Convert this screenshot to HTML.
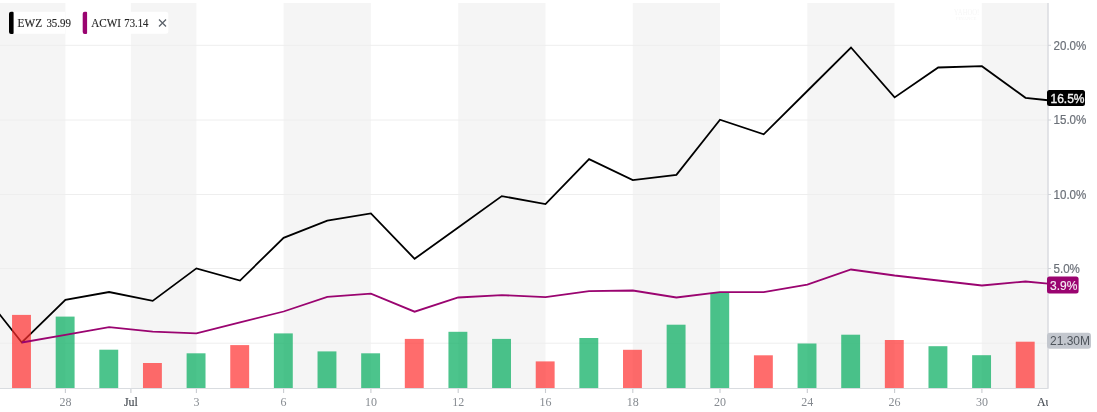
<!DOCTYPE html>
<html><head><meta charset="utf-8"><style>
html,body{margin:0;padding:0;background:#fff;width:1097px;height:412px;overflow:hidden}
svg{display:block;will-change:transform}
</style></head><body>
<svg width="1097" height="412" viewBox="0 0 1097 412">
<defs><clipPath id="plot"><rect x="0" y="3" width="1048" height="385"/></clipPath></defs>
<rect x="0.0" y="3" width="65.4" height="385" fill="#f5f5f5"/>
<rect x="130.9" y="3" width="65.5" height="385" fill="#f5f5f5"/>
<rect x="283.6" y="3" width="87.3" height="385" fill="#f5f5f5"/>
<rect x="458.2" y="3" width="87.3" height="385" fill="#f5f5f5"/>
<rect x="632.8" y="3" width="87.2" height="385" fill="#f5f5f5"/>
<rect x="807.3" y="3" width="87.2" height="385" fill="#f5f5f5"/>
<rect x="981.8" y="3" width="66.2" height="385" fill="#f5f5f5"/>
<line x1="0" x2="1048" y1="45.3" y2="45.3" stroke="#eeeeee" stroke-width="1"/>
<line x1="0" x2="1048" y1="120.0" y2="120.0" stroke="#eeeeee" stroke-width="1"/>
<line x1="0" x2="1048" y1="194.5" y2="194.5" stroke="#eeeeee" stroke-width="1"/>
<line x1="0" x2="1048" y1="268.5" y2="268.5" stroke="#eeeeee" stroke-width="1"/>
<line x1="0" x2="1048" y1="343.2" y2="343.2" stroke="#eeeeee" stroke-width="1"/>
<g clip-path="url(#plot)">
<polyline points="-21.8,287.3 21.8,342.5 65.4,299.9 109.1,292.0 152.7,300.9 196.4,268.4 240.0,280.6 283.6,237.8 327.3,220.6 370.9,213.4 414.6,258.8 458.2,227.4 501.8,196.1 545.5,204.1 589.1,159.2 632.8,180.1 676.4,174.8 720.0,119.7 763.7,134.3 807.3,91.0 851.0,47.5 894.6,97.4 938.2,67.5 981.9,66.2 1025.5,97.8 1069.2,102.5" fill="none" stroke="#000" stroke-width="1.8" stroke-linejoin="miter"/>
<rect x="12.05" y="314.9" width="18.9" height="73.1" fill="#ff2e2e" fill-opacity="0.7"/>
<rect x="55.69" y="316.6" width="18.9" height="71.4" fill="#00ab5b" fill-opacity="0.7"/>
<rect x="99.33" y="349.7" width="18.9" height="38.3" fill="#00ab5b" fill-opacity="0.7"/>
<rect x="142.97" y="363.0" width="18.9" height="25.0" fill="#ff2e2e" fill-opacity="0.7"/>
<rect x="186.61" y="353.3" width="18.9" height="34.7" fill="#00ab5b" fill-opacity="0.7"/>
<rect x="230.25" y="345.1" width="18.9" height="42.9" fill="#ff2e2e" fill-opacity="0.7"/>
<rect x="273.89" y="333.4" width="18.9" height="54.6" fill="#00ab5b" fill-opacity="0.7"/>
<rect x="317.53" y="351.4" width="18.9" height="36.6" fill="#00ab5b" fill-opacity="0.7"/>
<rect x="361.17" y="353.3" width="18.9" height="34.7" fill="#00ab5b" fill-opacity="0.7"/>
<rect x="404.81" y="338.9" width="18.9" height="49.1" fill="#ff2e2e" fill-opacity="0.7"/>
<rect x="448.45" y="331.8" width="18.9" height="56.2" fill="#00ab5b" fill-opacity="0.7"/>
<rect x="492.09" y="338.9" width="18.9" height="49.1" fill="#00ab5b" fill-opacity="0.7"/>
<rect x="535.73" y="361.4" width="18.9" height="26.6" fill="#ff2e2e" fill-opacity="0.7"/>
<rect x="579.37" y="338.0" width="18.9" height="50.0" fill="#00ab5b" fill-opacity="0.7"/>
<rect x="623.01" y="349.8" width="18.9" height="38.2" fill="#ff2e2e" fill-opacity="0.7"/>
<rect x="666.65" y="324.7" width="18.9" height="63.3" fill="#00ab5b" fill-opacity="0.7"/>
<rect x="710.29" y="292.8" width="18.9" height="95.2" fill="#00ab5b" fill-opacity="0.7"/>
<rect x="753.93" y="355.3" width="18.9" height="32.7" fill="#ff2e2e" fill-opacity="0.7"/>
<rect x="797.57" y="343.5" width="18.9" height="44.5" fill="#00ab5b" fill-opacity="0.7"/>
<rect x="841.21" y="334.7" width="18.9" height="53.3" fill="#00ab5b" fill-opacity="0.7"/>
<rect x="884.85" y="340.0" width="18.9" height="48.0" fill="#ff2e2e" fill-opacity="0.7"/>
<rect x="928.49" y="346.2" width="18.9" height="41.8" fill="#00ab5b" fill-opacity="0.7"/>
<rect x="972.13" y="355.2" width="18.9" height="32.8" fill="#00ab5b" fill-opacity="0.7"/>
<rect x="1015.77" y="341.7" width="18.9" height="46.3" fill="#ff2e2e" fill-opacity="0.7"/>
<polyline points="21.8,342.5 65.4,334.8 109.1,327.1 152.7,331.7 196.4,333.3 240.0,322.4 283.6,311.5 327.3,296.8 370.9,293.6 414.6,311.7 458.2,297.5 501.8,295.1 545.5,297.2 589.1,291.1 632.8,290.5 676.4,297.5 720.0,292.1 763.7,292.1 807.3,284.7 851.0,269.5 894.6,275.5 938.2,280.5 981.9,285.5 1025.5,281.5 1069.2,285.5" fill="none" stroke="#9a0470" stroke-width="1.8" stroke-linejoin="miter"/>
</g>
<line x1="0" x2="1048" y1="388.5" y2="388.5" stroke="#d9dce0" stroke-width="1"/>
<line x1="1048" x2="1048" y1="3" y2="388.75" stroke="#dcdee2" stroke-width="1.6"/>
<g clip-path="url(#plot2)">
<line x1="65.4" x2="65.4" y1="389" y2="393" stroke="#c9ccd1" stroke-width="1.1"/>
<line x1="130.9" x2="130.9" y1="389" y2="393" stroke="#c9ccd1" stroke-width="1.1"/>
<line x1="196.4" x2="196.4" y1="389" y2="393" stroke="#c9ccd1" stroke-width="1.1"/>
<line x1="283.6" x2="283.6" y1="389" y2="393" stroke="#c9ccd1" stroke-width="1.1"/>
<line x1="370.9" x2="370.9" y1="389" y2="393" stroke="#c9ccd1" stroke-width="1.1"/>
<line x1="458.2" x2="458.2" y1="389" y2="393" stroke="#c9ccd1" stroke-width="1.1"/>
<line x1="545.5" x2="545.5" y1="389" y2="393" stroke="#c9ccd1" stroke-width="1.1"/>
<line x1="632.8" x2="632.8" y1="389" y2="393" stroke="#c9ccd1" stroke-width="1.1"/>
<line x1="720.0" x2="720.0" y1="389" y2="393" stroke="#c9ccd1" stroke-width="1.1"/>
<line x1="807.3" x2="807.3" y1="389" y2="393" stroke="#c9ccd1" stroke-width="1.1"/>
<line x1="894.6" x2="894.6" y1="389" y2="393" stroke="#c9ccd1" stroke-width="1.1"/>
<line x1="981.9" x2="981.9" y1="389" y2="393" stroke="#c9ccd1" stroke-width="1.1"/>
</g>
<defs><clipPath id="plot2"><rect x="0" y="0" width="1048" height="412"/></clipPath></defs>
<g clip-path="url(#plot2)" font-family="Liberation Serif" font-size="12" text-anchor="middle">
<text x="65.4" y="405.5" fill="#868b91">28</text>
<text x="130.9" y="405.5" fill="#464c53" stroke="#464c53" stroke-width="0.15">Jul</text>
<text x="196.4" y="405.5" fill="#868b91">3</text>
<text x="283.6" y="405.5" fill="#868b91">6</text>
<text x="370.9" y="405.5" fill="#868b91">10</text>
<text x="458.2" y="405.5" fill="#868b91">12</text>
<text x="545.5" y="405.5" fill="#868b91">16</text>
<text x="632.8" y="405.5" fill="#868b91">18</text>
<text x="720.0" y="405.5" fill="#868b91">20</text>
<text x="807.3" y="405.5" fill="#868b91">24</text>
<text x="894.6" y="405.5" fill="#868b91">26</text>
<text x="981.9" y="405.5" fill="#868b91">30</text>
<text x="1047.3" y="405.5" fill="#464c53" stroke="#464c53" stroke-width="0.15">Aug</text>
</g>
<g font-family="Liberation Sans" font-size="12" fill="#6b7078">
<line x1="1048" x2="1051" y1="45.3" y2="45.3" stroke="#d0d3d8" stroke-width="1"/>
<text x="1053.5" y="49.5" stroke="#6b7078" stroke-width="0.2" textLength="32.84" lengthAdjust="spacingAndGlyphs">20.0%</text>
<line x1="1048" x2="1051" y1="120.0" y2="120.0" stroke="#d0d3d8" stroke-width="1"/>
<text x="1053.5" y="124.2" stroke="#6b7078" stroke-width="0.2" textLength="32.84" lengthAdjust="spacingAndGlyphs">15.0%</text>
<line x1="1048" x2="1051" y1="194.5" y2="194.5" stroke="#d0d3d8" stroke-width="1"/>
<text x="1053.5" y="198.7" stroke="#6b7078" stroke-width="0.2" textLength="32.84" lengthAdjust="spacingAndGlyphs">10.0%</text>
<line x1="1048" x2="1051" y1="268.5" y2="268.5" stroke="#d0d3d8" stroke-width="1"/>
<text x="1053.5" y="272.7" stroke="#6b7078" stroke-width="0.2" textLength="26.39" lengthAdjust="spacingAndGlyphs">5.0%</text>
</g>
<rect x="1047" y="90" width="38" height="16" rx="2.5" fill="#000"/>
<text x="1050.5" y="102.5" font-family="Liberation Sans" font-size="12" fill="#f2f2f2" stroke="#f2f2f2" stroke-width="0.35">16.5%</text>
<rect x="1047" y="276.5" width="31.6" height="17.1" rx="2.5" fill="#9a0470"/>
<text x="1050" y="289.6" font-family="Liberation Sans" font-size="12" fill="#f6eef4" stroke="#f6eef4" stroke-width="0.15">3.9%</text>
<rect x="1047" y="332.7" width="44" height="16" rx="3" fill="#c3c7ce"/>
<text x="1050" y="345.2" font-family="Liberation Sans" font-size="12" fill="#4e545b">21.30M</text>
<rect x="9" y="11.8" width="56" height="22" fill="#fff"/>
<path d="M11 11.7 H12.6 A1 1 0 0 1 13.6 12.7 V32.9 A1 1 0 0 1 12.6 33.9 H11 A2 2 0 0 1 9 31.9 V13.7 A2 2 0 0 1 11 11.7 Z" fill="#000"/>
<text x="17.6" y="27" font-family="Liberation Serif" font-size="12" fill="#262626" stroke="#262626" stroke-width="0.15" textLength="24.5" lengthAdjust="spacingAndGlyphs">EWZ</text><text x="46.4" y="27" font-family="Liberation Serif" font-size="12" fill="#262626" stroke="#262626" stroke-width="0.15" textLength="24.5" lengthAdjust="spacingAndGlyphs">35.99</text>
<rect x="80" y="11.8" width="88.3" height="22" rx="2.5" fill="#fff"/>
<path d="M84.7 11.7 H86.1 A1 1 0 0 1 87.1 12.7 V32.9 A1 1 0 0 1 86.1 33.9 H84.7 A2 2 0 0 1 82.7 31.9 V13.7 A2 2 0 0 1 84.7 11.7 Z" fill="#9a0470"/>
<text x="91.2" y="27" font-family="Liberation Serif" font-size="12" fill="#262626" stroke="#262626" stroke-width="0.15" textLength="29.8" lengthAdjust="spacingAndGlyphs">ACWI</text><text x="124.3" y="27" font-family="Liberation Serif" font-size="12" fill="#262626" stroke="#262626" stroke-width="0.15" textLength="24" lengthAdjust="spacingAndGlyphs">73.14</text>
<path d="M159 19.5 L166 26.5 M166 19.5 L159 26.5" stroke="#5d636b" stroke-width="1.3"/>
<g font-family="Liberation Serif" fill="#f6f6f6"><text x="953.8" y="15.2" font-size="7.5" textLength="25.4" lengthAdjust="spacingAndGlyphs">YAHOO!</text><text x="956" y="19.9" font-size="4.5" textLength="20.5" lengthAdjust="spacingAndGlyphs">FINANCE</text></g>
</svg>
</body></html>
